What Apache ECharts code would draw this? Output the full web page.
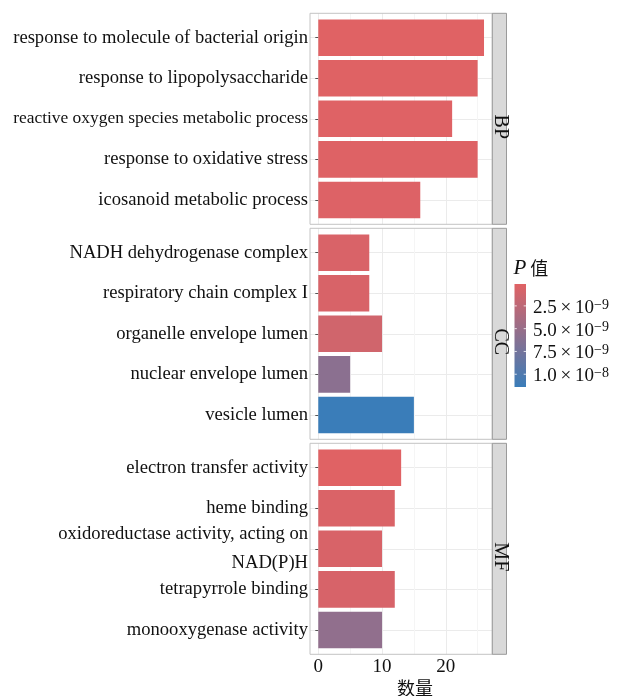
<!DOCTYPE html>
<html>
<head>
<meta charset="utf-8">
<script src="https://cdn.jsdelivr.net/npm/echarts@6/dist/echarts.min.js"></script>
<style>
  html, body { margin: 0; padding: 0; background: #ffffff; }
  #chart { width: 619px; height: 696px; }
</style>
</head>
<body>
<div id="chart"></div>
<script>
// ---- data -------------------------------------------------------------
const facetNames = ['BP', 'CC', 'MF'];

const bpTerms = [
  'response to molecule of bacterial origin',
  'response to lipopolysaccharide',
  'reactive oxygen species metabolic process',
  'response to oxidative stress',
  'icosanoid metabolic process'
];
const bpCounts = [26, 25, 21, 25, 16];
const bpPvalues = [1.0e-10, 1.5e-10, 2.0e-10, 2.2e-10, 3.0e-10];

const ccTerms = [
  'NADH dehydrogenase complex',
  'respiratory chain complex I',
  'organelle envelope lumen',
  'nuclear envelope lumen',
  'vesicle lumen'
];
const ccCounts = [8, 8, 10, 5, 15];
const ccPvalues = [6.0e-10, 6.5e-10, 1.2e-9, 5.9e-9, 1.14e-8];

const mfTerms = [
  'electron transfer activity',
  'heme binding',
  'oxidoreductase activity, acting on\nNAD(P)H',
  'tetrapyrrole binding',
  'monooxygenase activity'
];
const mfCounts = [13, 12, 10, 12, 10];
const mfPvalues = [1.0e-10, 5.0e-10, 6.5e-10, 7.0e-10, 5.5e-9];

const xTickValues = [0, 10, 20];
const xAxisTitle = '数量';
const legendTitleItalic = 'P';
const legendTitleText = ' 值';
const legendTickValues = [2.5e-9, 5.0e-9, 7.5e-9, 1.0e-8];
const legendTickMantissas = ['2.5', '5.0', '7.5', '1.0'];
const legendTickExponents = ['−9', '−9', '−9', '−8'];

// ---- layout & style ---------------------------------------------------
const LOW_COLOR = '#E06264';
const HIGH_COLOR = '#3A7DB9';
const SERIF = 'Liberation Serif';
const CJK = 'Noto Sans CJK SC';
const TEXT_COLOR = '#111111';

const PANEL_L = 310;
const PANEL_R = 492.3;
const STRIP_R = 506.5;
const PANEL_TOPS = [13.3, 228.3, 443.3];
const PANEL_H = 211;
const X_MIN = -1.3;
const X_MAX = 27.3;
const PX_PER_UNIT = (PANEL_R - PANEL_L) / (X_MAX - X_MIN);
const BAND = PANEL_H / 5.2;            // five categories + 0.6 padding each side

const LABEL_FONT = 18.6;
const LABEL_MAX_W = 295;               // long terms are set tighter to fit the left margin

const LEG_X = 514.5, LEG_W = 11.5, LEG_TOP = 284, LEG_H = 103;

const facets = [
  { terms: bpTerms, counts: bpCounts, pvalues: bpPvalues },
  { terms: ccTerms, counts: ccCounts, pvalues: ccPvalues },
  { terms: mfTerms, counts: mfCounts, pvalues: mfPvalues }
];

const allP = bpPvalues.concat(ccPvalues, mfPvalues);
const pMin = Math.min.apply(null, allP);
const pMax = Math.max.apply(null, allP);

const measureCtx = document.createElement('canvas').getContext('2d');
function labelFontSize(text) {
  measureCtx.font = LABEL_FONT + 'px "' + SERIF + '"';
  let w = 0;
  text.split('\n').forEach(function (line) { w = Math.max(w, measureCtx.measureText(line).width); });
  return w > LABEL_MAX_W ? LABEL_FONT * LABEL_MAX_W / w : LABEL_FONT;
}

const grids = [], xAxes = [], yAxes = [], series = [], graphics = [];

facets.forEach(function (f, i) {
  const top = PANEL_TOPS[i];
  const isBottom = i === facets.length - 1;

  // grid for vertical grid lines (x starts at 0 so ticks fall on multiples of 5)
  grids.push({
    left: PANEL_L + (0 - X_MIN) * PX_PER_UNIT,
    width: X_MAX * PX_PER_UNIT,
    top: top,
    height: PANEL_H,
    containLabel: false,
    outerBoundsMode: 'none'
  });
  // grid for the bars
  grids.push({
    left: PANEL_L,
    width: PANEL_R - PANEL_L,
    top: top + 0.1 * BAND,
    height: 5 * BAND,
    containLabel: false,
    outerBoundsMode: 'none'
  });

  xAxes.push({
    type: 'value', gridIndex: 2 * i, min: 0, max: X_MAX, interval: 5,
    axisLine: { show: false },
    axisTick: { show: false },
    splitLine: { show: true, lineStyle: { color: ['#EBEBEB', '#F5F5F5'], width: 1 } },
    axisLabel: {
      show: isBottom,
      margin: 3,
      fontFamily: SERIF, fontSize: 19, color: TEXT_COLOR,
      formatter: function (v) { return xTickValues.indexOf(v) >= 0 ? String(v) : ''; }
    }
  });
  xAxes.push({
    type: 'value', gridIndex: 2 * i + 1, min: X_MIN, max: X_MAX, show: false,
    splitLine: { show: false }
  });

  // one rich style per term so long terms can be set slightly smaller
  const rich = {};
  f.terms.forEach(function (t, k) {
    rich['t' + k] = { fontFamily: SERIF, fontSize: labelFontSize(t), color: TEXT_COLOR, lineHeight: 29 };
  });

  yAxes.push({ type: 'value', gridIndex: 2 * i, min: 0, max: 1, show: false, splitLine: { show: false } });
  yAxes.push({
    type: 'category', gridIndex: 2 * i + 1, data: f.terms, inverse: true,
    axisLine: { show: false },
    axisTick: { show: true, length: 3, alignWithLabel: true, lineStyle: { color: '#555555' } },
    splitLine: { show: true, alignWithLabel: true, lineStyle: { color: '#EBEBEB', width: 1 } },
    axisLabel: {
      margin: 2, align: 'right', rich: rich,
      formatter: function (value, index) {
        return value.split('\n').map(function (line) { return '{t' + index + '|' + line + '}'; }).join('\n');
      }
    }
  });

  series.push({
    type: 'bar',
    xAxisIndex: 2 * i + 1,
    yAxisIndex: 2 * i + 1,
    barWidth: 0.9 * BAND,
    encode: { x: 0, y: 1 },
    data: f.counts.map(function (c, k) { return [c, f.terms[k], f.pvalues[k]]; })
  });

  // panel border
  graphics.push({
    type: 'rect', z: 100,
    shape: { x: PANEL_L, y: top, width: PANEL_R - PANEL_L, height: PANEL_H },
    style: { fill: 'none', stroke: '#C4C4C4', lineWidth: 1 }
  });
  // facet strip
  graphics.push({
    type: 'rect', z: 100,
    shape: { x: PANEL_R, y: top, width: STRIP_R - PANEL_R, height: PANEL_H },
    style: { fill: '#D9D9D9', stroke: '#9A9A9A', lineWidth: 1 }
  });
  graphics.push({
    type: 'text', z: 101,
    x: (PANEL_R + STRIP_R) / 2 + 0.5, y: top + PANEL_H / 2 + 8,
    rotation: -Math.PI / 2,
    style: {
      text: facetNames[i], fontFamily: SERIF, fontSize: 20, fill: TEXT_COLOR,
      align: 'center', verticalAlign: 'middle'
    }
  });
});

// x axis title
graphics.push({
  type: 'text', x: 415, y: 688,
  style: { text: xAxisTitle, fontFamily: CJK, fontSize: 18, fill: TEXT_COLOR, align: 'center', verticalAlign: 'middle' }
});

// colour legend
graphics.push({
  type: 'text', x: LEG_X - 1, y: 268,
  style: {
    text: '{i|' + legendTitleItalic + '}{c|' + legendTitleText + '}',
    verticalAlign: 'middle', align: 'left',
    rich: {
      i: { fontFamily: SERIF, fontStyle: 'italic', fontSize: 21, fill: TEXT_COLOR },
      c: { fontFamily: CJK, fontSize: 18, fill: TEXT_COLOR }
    }
  }
});
graphics.push({
  type: 'rect',
  shape: { x: LEG_X, y: LEG_TOP, width: LEG_W, height: LEG_H },
  style: {
    fill: {
      type: 'linear', x: 0, y: 0, x2: 0, y2: 1,
      colorStops: [{ offset: 0, color: LOW_COLOR }, { offset: 1, color: HIGH_COLOR }]
    }
  }
});
legendTickValues.forEach(function (t, k) {
  const y = LEG_TOP + (t - pMin) / (pMax - pMin) * LEG_H;
  graphics.push({
    type: 'line', shape: { x1: LEG_X, y1: y, x2: LEG_X + 2.3, y2: y },
    style: { stroke: 'rgba(255,255,255,0.8)', lineWidth: 1 }
  });
  graphics.push({
    type: 'line', shape: { x1: LEG_X + LEG_W - 2.3, y1: y, x2: LEG_X + LEG_W, y2: y },
    style: { stroke: 'rgba(255,255,255,0.8)', lineWidth: 1 }
  });
  graphics.push({
    type: 'text', x: 533, y: y + 2,
    style: {
      text: '{m|' + legendTickMantissas[k] + '\u2009×\u200910}{s|' + legendTickExponents[k] + '}',
      align: 'left', verticalAlign: 'middle',
      rich: {
        m: { fontFamily: SERIF, fontSize: 19, fill: TEXT_COLOR, lineHeight: 20 },
        s: { fontFamily: SERIF, fontSize: 14, fill: TEXT_COLOR, verticalAlign: 'top', lineHeight: 20 }
      }
    }
  });
});

const chart = echarts.init(document.getElementById('chart'), null, { renderer: 'canvas' });
chart.setOption({
  backgroundColor: '#ffffff',
  animation: false,
  grid: grids,
  xAxis: xAxes,
  yAxis: yAxes,
  visualMap: {
    type: 'continuous', show: false, dimension: 2,
    min: pMin, max: pMax, seriesIndex: [0, 1, 2],
    inRange: { color: [LOW_COLOR, HIGH_COLOR] }
  },
  series: series,
  graphic: graphics
});
</script>
</body>
</html>
